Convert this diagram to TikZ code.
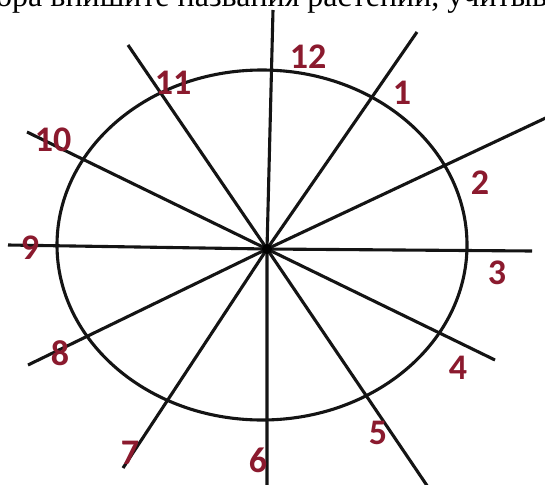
\documentclass[tikz,border=0pt]{standalone}
\usepackage{fontspec}
\setmainfont{Liberation Serif}
\newfontfamily\numfont{Carlito}
\definecolor{numred}{RGB}{139,26,46}
\begin{document}
\begin{tikzpicture}[x=1pt,y=-1pt,
  ray/.style={line width=3.1pt, draw=black!92, line join=round},
  num/.style={font=\numfont\bfseries\fontsize{36}{36}\selectfont, text=numred, inner sep=0pt}]
\useasboundingbox (0,0) rectangle (545,484);
\fill[white] (0,0) rectangle (545,484);
\clip (0,0) rectangle (545,484);
\node[anchor=base west, inner sep=0pt, font=\fontsize{32}{32}\selectfont] (hdr) at (-4,7) {ора впишите названия растений, учитывая};
% hub and ends
\coordinate (h) at (267,249);
\coordinate (e12) at (273,10);
\coordinate (e6) at (267,490);
\coordinate (e11) at (128,45);
\coordinate (e5) at (430,490);
\coordinate (e10) at (27,132);
\coordinate (e4) at (495,360);
\coordinate (e1) at (417,32);
\coordinate (e7) at (123,468);
\coordinate (e2) at (552,115);
\coordinate (e8) at (28,365);
\coordinate (e9) at (8,245);
\coordinate (e3) at (532,251);
% clock face
\draw[ray] (262,245) ellipse [x radius=205pt, y radius=175pt];
\draw[ray] (e12) -- (h) -- (e6);
\draw[ray] (e11) -- (h) -- (e5);
\draw[ray] (e10) -- (h) -- (e4);
\draw[ray] (e1) -- (h) -- (e7);
\draw[ray] (e2) -- (h) -- (e8);
\draw[ray] (e9) -- (h) -- (e3);
\fill[black] (h) circle (5pt);
% numbers
\node[num] (n12) at (308,57) {12};
\node[num] (n1) at (402,93) {1};
\node[num] (n2) at (480,183) {2};
\node[num] (n3) at (497,273) {3};
\node[num] (n4) at (458,368) {4};
\node[num] (n5) at (378,433) {5};
\node[num] (n6) at (258,460) {6};
\node[num] (n7) at (130,453) {7};
\node[num] (n8) at (60,353) {8};
\node[num] (n9) at (30,248) {9};
\node[num] (n10) at (53,140) {10};
\node[num] (n11) at (173,83) {11};
\end{tikzpicture}
\end{document}
